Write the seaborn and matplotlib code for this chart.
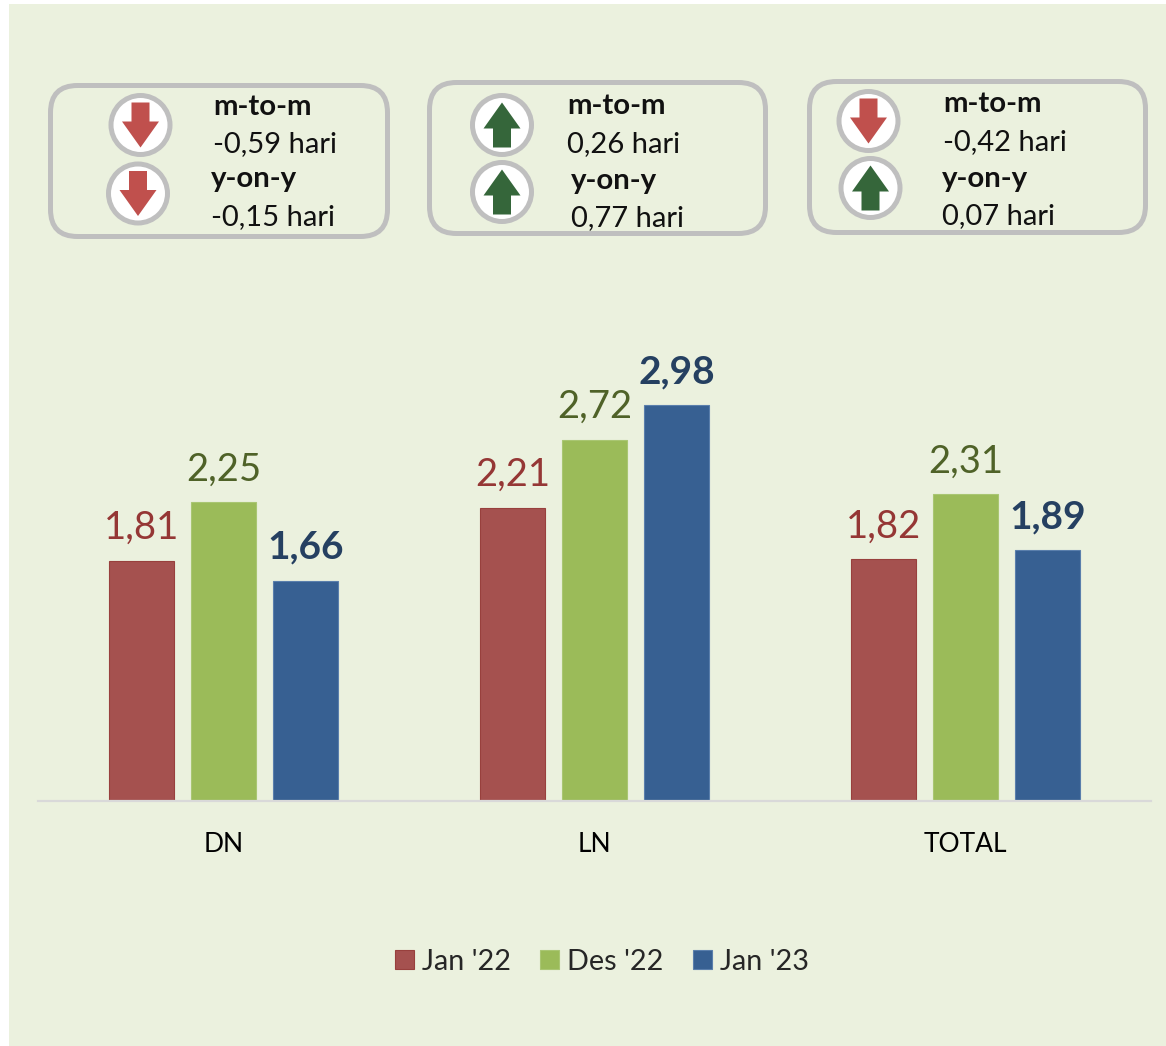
import matplotlib
matplotlib.use("Agg")
import matplotlib.pyplot as plt
from matplotlib.patches import FancyBboxPatch, Circle, Polygon, Rectangle
import pandas as pd
import seaborn as sns

categories = ["DN", "LN", "TOTAL"]
series_names = ["Jan '22", "Des '22", "Jan '23"]
jan22 = [1.81, 2.21, 1.82]
des22 = [2.25, 2.72, 2.31]
jan23 = [1.66, 2.98, 1.89]
bar_colors = ["#A5514F", "#9BBB59", "#376092"]
edge_colors = ["#98403D", "#A9C672", "#5A7FAC"]
label_colors = ["#953735", "#4F6228", "#254061"]
label_bold = [False, False, True]

mtom_text = ["-0,59 hari", "0,26 hari", "-0,42 hari"]
yony_text = ["-0,15 hari", "0,77 hari", "0,07 hari"]
mtom_up = [False, True, False]
yony_up = [False, True, True]

BG = "#EBF1DE"
FONT = "Lato"
sns.set_theme(style="white")
plt.rcParams["font.family"] = [FONT, "DejaVu Sans"]

W, H = 1166, 1046
fig = plt.figure(figsize=(W / 100, H / 100), dpi=100, facecolor="white")

# pixel-space layer for the panel and the callouts
bg = fig.add_axes([0, 0, 1, 1], zorder=0)
bg.set_xlim(0, W)
bg.set_ylim(H, 0)
bg.axis("off")
bg.add_patch(Rectangle((9, 4), W - 9, H - 4, fc=BG, ec="none"))

df = pd.DataFrame({
    "cat": categories * 3,
    "series": [s for s in series_names for _ in categories],
    "val": jan22 + des22 + jan23,
})

ax = fig.add_axes([38 / W, 1 - 801 / H, (1151 - 38) / W, (801 - 300) / H], zorder=1)
ax.patch.set_visible(False)
sns.barplot(data=df, x="cat", y="val", hue="series", order=categories,
            hue_order=series_names, palette=bar_colors, saturation=1,
            width=0.663, gap=0.2, ax=ax, legend=False)
ax.set_ylim(0, 501 / 132.8)
ax.set_xlim(-0.5, 2.5)
ax.set_xlabel("")
ax.set_ylabel("")
ax.set_yticks([])
for s in ["top", "left", "right"]:
    ax.spines[s].set_visible(False)
ax.spines["bottom"].set_color("#D9D9D9")
ax.spines["bottom"].set_linewidth(1.6)
ax.tick_params(axis="x", length=0, pad=22, labelsize=19, labelcolor="black")

for container, ec, lc, bold, name in zip(ax.containers, edge_colors, label_colors,
                                         label_bold, series_names):
    for bar in container:
        bar.set_edgecolor(ec)
        bar.set_linewidth(0.8)
        val = bar.get_height()
        ax.annotate(f"{val:.2f}".replace(".", ","),
                    (bar.get_x() + bar.get_width() / 2, val),
                    xytext=(0, 15.8), textcoords="offset points",
                    ha="center", va="baseline", color=lc,
                    fontsize=28 if bold else 27.5,
                    fontweight="bold" if bold else "normal")

handles = [Rectangle((0, 0), 1, 1, fc=c, ec=e, lw=0.8)
           for c, e in zip(bar_colors, edge_colors)]
ax.legend(handles, series_names, loc="center", bbox_to_anchor=(602 / W, 1 - 961.5 / H),
          bbox_transform=fig.transFigure, ncol=3, frameon=False, fontsize=20.7,
          handlelength=0.66, handleheight=0.66, handletextpad=0.28, columnspacing=1.02,
          labelcolor="#262626", borderpad=0)

# callouts: outline paths (left, top, width, height)
boxes = [(50.5, 85.5, 337, 151), (429.5, 82.5, 336, 151), (809.5, 81.5, 336, 151)]
circles = [[(140.5, 125), (138, 193.5)], [(502, 125), (502, 192)], [(868.5, 121), (870.5, 188)]]
text_x = [(213, 211), (567, 571), (943, 942)]
baselines = [(115, 152, 187, 225), (114, 152, 189, 226), (112, 150, 187, 224)]
GREY = "#BFBFBF"


def arrow(cx, cy, up, color):
    s = -1 if up else 1
    pts = [(-9, -22.5), (9, -22.5), (9, -3.5), (18.5, -3.5), (0, 22.5), (-18.5, -3.5), (-9, -3.5)]
    bg.add_patch(Polygon([(cx + x, cy + s * y) for x, y in pts], closed=True, fc=color, ec="none"))


for i, (bx, by, bw, bh) in enumerate(boxes):
    bg.add_patch(FancyBboxPatch((bx + 27, by + 27), bw - 54, bh - 54,
                                boxstyle="round,pad=27,rounding_size=27",
                                fc="none", ec=GREY, lw=3.6))
    for (cx, cy), up in zip(circles[i], (mtom_up[i], yony_up[i])):
        bg.add_patch(Circle((cx, cy), 29.5, fc="white", ec=GREY, lw=3.6))
        arrow(cx, cy, up, "#35663A" if up else "#C0504D")
    b = baselines[i]
    x1, x2 = text_x[i]
    bg.text(x1, b[0], "m-to-m", fontsize=21.2, fontweight="bold", color="#111111", va="baseline")
    bg.text(x1, b[1], mtom_text[i], fontsize=21, color="#111111", va="baseline")
    bg.text(x2, b[2], "y-on-y", fontsize=21.2, fontweight="bold", color="#111111", va="baseline")
    bg.text(x2, b[3], yony_text[i], fontsize=21, color="#111111", va="baseline")

fig.savefig("out.png", dpi=100, facecolor="white")
